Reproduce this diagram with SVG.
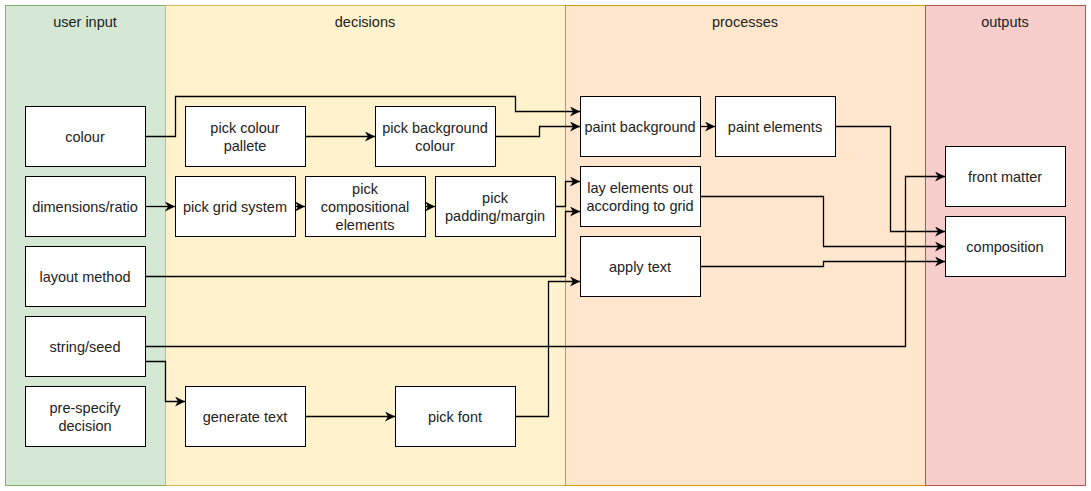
<svg xmlns="http://www.w3.org/2000/svg" width="1091" height="491" viewBox="0 0 1091 491">
<defs>
<marker id="ah" viewBox="0 0 10 10" refX="10" refY="5" markerWidth="10" markerHeight="10" markerUnits="userSpaceOnUse" orient="auto">
<path d="M0,0 L10,5 L0,10 L3,5 Z" fill="#000"/>
</marker>
<style>
text{font-family:"Liberation Sans",Arial,sans-serif;font-size:14.5px;fill:#222;text-anchor:middle}
.n{fill:#fff;stroke:#000;stroke-width:1}
.c{fill:none;stroke:#000;stroke-width:1.3;marker-end:url(#ah)}
</style>
</defs>
<rect width="1091" height="491" fill="#fff"/>
<g id="lanes">
<g id="lane-user-input"><rect x="5.5" y="5.5" width="160" height="480" fill="#d5e8d4" stroke="#82b366"/><text x="85" y="27">user input</text></g>
<g id="lane-decisions"><rect x="165.5" y="5.5" width="400" height="480" fill="#fff2cc" stroke="#d6b656"/><text x="365" y="27">decisions</text></g>
<g id="lane-processes"><rect x="565.5" y="5.5" width="360" height="480" fill="#ffe6cc" stroke="#d79b00"/><text x="745" y="27">processes</text></g>
<g id="lane-outputs"><rect x="925.5" y="5.5" width="160" height="480" fill="#f8cecc" stroke="#b85450"/><text x="1005" y="27">outputs</text></g>
</g>
<g id="connectors">
<path class="c" d="M145,136.5 H175.5 V96.5 H515.5 V111.5 H580"/>
<path class="c" d="M305,136.5 H375"/>
<path class="c" d="M495,136.5 H539.5 V126.5 H580"/>
<path class="c" d="M700,126.5 H715"/>
<path class="c" d="M145,206.5 H175"/>
<path class="c" d="M295,206.5 H305"/>
<path class="c" d="M425,206.5 H435"/>
<path class="c" d="M555,206.5 H565.5 V181.5 H580"/>
<path class="c" d="M145,276.5 H565.5 V211.5 H580"/>
<path class="c" d="M515,416.5 H548.5 V281.5 H580"/>
<path class="c" d="M145,346.5 H905.5 V176.5 H945"/>
<path class="c" d="M145,361.5 H165.5 V401.5 H185"/>
<path class="c" d="M305,416.5 H395"/>
<path class="c" d="M835,126.5 H890.5 V231.5 H945"/>
<path class="c" d="M700,196.5 H823.5 V246.5 H945"/>
<path class="c" d="M700,266.5 H823.5 V261.5 H945"/>
</g>
<g id="node-colour"><rect class="n" x="25.5" y="106.5" width="120" height="60"/><text x="85" y="142">colour</text></g>
<g id="node-dimensions"><rect class="n" x="25.5" y="176.5" width="120" height="60"/><text x="85" y="212">dimensions/ratio</text></g>
<g id="node-layout-method"><rect class="n" x="25.5" y="246.5" width="120" height="60"/><text x="85" y="282">layout method</text></g>
<g id="node-string-seed"><rect class="n" x="25.5" y="316.5" width="120" height="60"/><text x="85" y="352">string/seed</text></g>
<g id="node-pre-specify"><rect class="n" x="25.5" y="386.5" width="120" height="60"/><text x="85" y="413">pre-specify</text><text x="85" y="431">decision</text></g>
<g id="node-pick-colour-pallete"><rect class="n" x="185.5" y="106.5" width="120" height="60"/><text x="245" y="133">pick colour</text><text x="245" y="151">pallete</text></g>
<g id="node-pick-background-colour"><rect class="n" x="375.5" y="106.5" width="120" height="60"/><text x="435" y="133">pick background</text><text x="435" y="151">colour</text></g>
<g id="node-pick-grid-system"><rect class="n" x="175.5" y="176.5" width="120" height="60"/><text x="235" y="212">pick grid system</text></g>
<g id="node-pick-compositional"><rect class="n" x="305.5" y="176.5" width="120" height="60"/><text x="365" y="194">pick</text><text x="365" y="212">compositional</text><text x="365" y="230">elements</text></g>
<g id="node-pick-padding"><rect class="n" x="435.5" y="176.5" width="120" height="60"/><text x="495" y="203">pick</text><text x="495" y="221">padding/margin</text></g>
<g id="node-generate-text"><rect class="n" x="185.5" y="386.5" width="120" height="60"/><text x="245" y="422">generate text</text></g>
<g id="node-pick-font"><rect class="n" x="395.5" y="386.5" width="120" height="60"/><text x="455" y="422">pick font</text></g>
<g id="node-paint-background"><rect class="n" x="580.5" y="96.5" width="120" height="60"/><text x="640" y="132">paint background</text></g>
<g id="node-paint-elements"><rect class="n" x="715.5" y="96.5" width="120" height="60"/><text x="775" y="132">paint elements</text></g>
<g id="node-lay-elements"><rect class="n" x="580.5" y="166.5" width="120" height="60"/><text x="640" y="193">lay elements out</text><text x="640" y="211">according to grid</text></g>
<g id="node-apply-text"><rect class="n" x="580.5" y="236.5" width="120" height="60"/><text x="640" y="272">apply text</text></g>
<g id="node-front-matter"><rect class="n" x="945.5" y="146.5" width="120" height="60"/><text x="1005" y="182">front matter</text></g>
<g id="node-composition"><rect class="n" x="945.5" y="216.5" width="120" height="60"/><text x="1005" y="252">composition</text></g>
</svg>
